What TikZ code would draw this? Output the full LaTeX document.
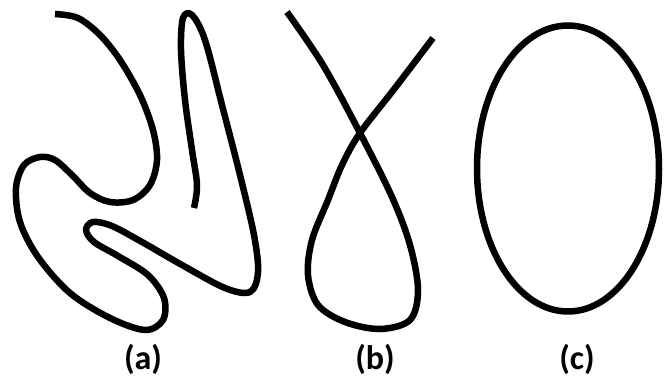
\documentclass[tikz,border=0pt]{standalone}
\usepackage{fontspec}
\setmainfont{Carlito}
\begin{document}
\begin{tikzpicture}[x=1pt,y=-1pt,
  curve/.style={line width=6.5pt,line cap=butt,line join=round},
  lbl/.style={font=\fontsize{34}{38}\selectfont\bfseries,inner sep=0pt}]
\useasboundingbox (0,0) rectangle (665,381);
% (a)
\draw[curve] plot[smooth,tension=0.55] coordinates{
 (55,14) (78,18) (100,35) (120,60) (140,95) (153,130) (157,160) (150,185)
 (133,200) (110,202) (90,193) (72,175) (55,160) (40,157) (24,165) (16,188)
 (20,222) (38,257) (70,293) (110,318) (145,330) (163,320) (164,298) (148,275)
 (118,256) (94,242) (86,230) (93,222) (112,226) (142,242) (182,265) (225,288)
 (250,292) (258,272) (254,235) (240,175) (222,105) (205,40) (192,15) (183,18)
 (181,50) (185,100) (192,150) (197,185) (194,208)};
% (b)
\draw[curve] plot[smooth,tension=0.55] coordinates{
 (287,12) (323,65) (360,133) (392,197) (410,245) (418,290) (410,320) (380,329)
 (345,322) (318,305) (308,275) (312,240) (328,200) (342,165) (360,133) (395,88) (433,38)};
% (c)
\draw[line width=6.5pt] (568,168.5) ellipse [x radius=91, y radius=143];
\node[lbl] (la) at (143,359) {(a)};
\node[lbl] (lb) at (375,359) {(b)};
\node[lbl] (lc) at (577,359) {(c)};
\end{tikzpicture}
\end{document}
